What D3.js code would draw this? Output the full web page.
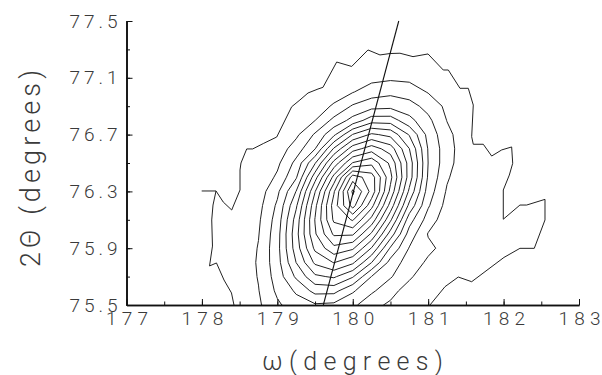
<!DOCTYPE html>
<html><head><meta charset="utf-8">
<script src="https://cdn.jsdelivr.net/npm/d3@7"></script>
<style>body{margin:0;background:#fff}svg{display:block}</style>
</head><body>
<svg id="chart" width="602" height="375"></svg>
<script>
// ---- axis ticks ----
const omegaTicks = [177,177.5,178,178.5,179,179.5,180,180.5,181,181.5,182,182.5,183];
const omegaLabels = [177,178,179,180,181,182,183];
const thetaTicks = [75.5,75.7,75.9,76.1,76.3,76.5,76.7,76.9,77.1,77.3,77.5];
const thetaLabels = [75.5,75.9,76.3,76.7,77.1,77.5];

// ---- measured intensity grid (contour level read at each grid node) ----
const gridOmega = [178.5,178.75,179,179.25,179.5,179.75,180,180.25,180.5,180.75,181,181.25,181.5,181.75,182];
const gridTheta = [75.5,75.6,75.7,75.8,75.9,76.0,76.1,76.2,76.3,76.4,76.5,76.6,76.7,76.8,76.9,77.0,77.1,77.2,77.3];
const intensity = [
 [1.23,1.84,2.83,3.55,3.87,3.76,3.25,2.26,1.85,0.92,0.32,0,0,0,0],
 [1.29,1.96,3.2,4.15,5.33,5.32,4.13,3.19,2.3,1.6,0.64,0,0,0,0],
 [1.31,2.06,3.45,5.17,6.8,7.15,6.1,3.97,3.1,2.15,1.4,0.29,0,0,0],
 [1.29,2.12,3.61,6.02,8.2,9.05,8.2,6.02,3.63,2.5,1.85,0.59,0,0,0],
 [1.24,2.06,3.67,6.5,9.22,10.72,10.17,7.93,4.87,2.94,2.2,1.7,0.2,0,0],
 [1.14,1.95,3.6,6.65,9.88,12.17,12.15,9.82,6.57,3.57,1.94,1.12,0.41,0,0],
 [1.0,1.84,3.43,6.42,10.05,13.18,14.1,11.65,8.17,4.43,2.54,1.4,0.64,0,0],
 [0.87,1.68,3.17,5.85,9.72,13.48,16.4,13.33,9.6,5.72,3.12,1.65,0.84,0.13,0],
 [0.7,1.5,2.78,5.03,8.95,12.88,17.2,14.65,10.73,6.8,3.54,1.88,1.04,0.32,0],
 [0.49,1.24,2.17,3.89,7.58,11.33,15.5,14.5,11.28,7.53,3.87,2.13,1.23,0.48,0],
 [0.26,0.96,1.78,3.29,5.92,9.35,12.07,12.75,10.77,7.57,3.99,2.37,1.35,0.59,0],
 [0,0.69,1.43,2.48,3.97,7.13,9.57,10.53,9.5,7.02,3.93,2.41,1.4,0.66,0],
 [0,0.38,1.05,1.8,3.13,4.8,7.05,8.17,7.72,5.92,3.68,2.28,1.39,0.68,0.02],
 [0,0.03,0.66,1.32,1.99,3.28,4.35,5.55,5.53,4.32,3.25,1.97,1.31,0.65,0.02],
 [0,0,0.3,0.88,1.5,2.13,3.12,3.62,3.72,3.4,2.65,1.77,1.17,0.58,0],
 [0,0,0,0.48,1.0,1.54,1.95,2.53,2.75,2.51,1.94,1.52,0.98,0.45,0],
 [0,0,0,0.07,0.57,1.0,1.41,1.69,1.82,1.77,1.56,1.2,0.77,0.3,0],
 [0,0,0,0,0.13,0.55,0.89,1.16,1.3,1.3,1.14,0.87,0.52,0.11,0],
 [0,0,0,0,0,0,0.4,0.65,0.79,0.82,0.72,0.52,0.23,0,0]
];
const levels = [2,3,4,5,6,7,8,9,10,11,12,13,14,15,16,17];

// ---- outermost (lowest) contour, traced as polylines [omega, 2theta] ----
const outerContourA = [[177.997,76.303],[178.187,76.303],[178.283,76.225],[178.395,76.169],[178.505,76.310],[178.505,76.451],[178.518,76.500],[178.594,76.599],[178.673,76.599],[178.814,76.637],[178.992,76.683],[179.190,76.896],[179.300,76.944],[179.407,76.993],[179.539,77.021],[179.605,77.033],[179.787,77.211],[179.986,77.180],[180.202,77.296],[180.361,77.261],[180.494,77.271],[180.626,77.273],[180.799,77.249],[180.998,77.268],[181.200,77.155],[181.267,77.155],[181.422,77.026],[181.532,77.026],[181.598,76.908],[181.577,76.685],[181.598,76.632],[181.731,76.632],[181.842,76.549],[181.975,76.592],[182.107,76.613],[182.121,76.498],[182.076,76.415],[181.996,76.310],[181.996,76.104],[182.217,76.204],[182.306,76.204],[182.549,76.244],[182.549,76.099],[182.407,75.899],[182.217,75.899],[182.005,75.835],[181.577,75.664],[181.399,75.697],[181.223,75.629],[181.024,75.500]];
const outerContourB = [[178.187,76.303],[178.147,76.204],[178.130,76.099],[178.140,75.915],[178.101,75.775],[178.193,75.796],[178.293,75.676],[178.392,75.585],[178.425,75.500]];
const ridgeLine = [[179.61,75.5],[180.61,77.5]];

// ---- drawing ----
const svg = d3.select('#chart');
const x = d3.scaleLinear().domain([177,183]).range([126.5,579]);
const y = d3.scaleLinear().domain([75.5,77.5]).range([305,21]);
const FONT = 'Roboto, "Open Sans", sans-serif';
const FW = 300, FC = '#3a3a3a';

svg.append('clipPath').attr('id','plot').append('rect')
  .attr('x',126.5).attr('y',0).attr('width',470).attr('height',305);
const g = svg.append('g').attr('clip-path','url(#plot)');

const dO = gridOmega[1]-gridOmega[0], dT = gridTheta[1]-gridTheta[0];
const proj = d3.geoTransform({point(px,py){
  this.stream.point(x(gridOmega[0]+(px-0.5)*dO), y(gridTheta[0]+(py-0.5)*dT));
}});
const contours = d3.contours().size([gridOmega.length, gridTheta.length])
  .thresholds(levels)(intensity.flat());
g.selectAll('path.lvl').data(contours).join('path').attr('class','lvl')
  .attr('d', d3.geoPath(proj)).attr('fill','none').attr('stroke','#222').attr('stroke-width',1);

const line = d3.line().x(d=>x(d[0])).y(d=>y(d[1]));
g.selectAll('path.outer').data([outerContourA, outerContourB]).join('path').attr('class','outer')
  .attr('d', line).attr('fill','none').attr('stroke','#222').attr('stroke-width',1);
g.append('path').datum(ridgeLine).attr('d', line).attr('fill','none').attr('stroke','#111').attr('stroke-width',1.1);

// axes
function styleAxis(sel){
  sel.select('.domain').attr('stroke','#111').attr('stroke-width',1.6);
  sel.selectAll('.tick line').attr('stroke','#111').attr('stroke-width',1);
}
const xMinor = svg.append('g').attr('transform','translate(0,305)')
  .call(d3.axisBottom(x).tickValues(omegaTicks).tickSizeInner(-3.5).tickSizeOuter(0).tickFormat(''));
styleAxis(xMinor);
const xMajor = svg.append('g').attr('transform','translate(0,305)')
  .call(d3.axisBottom(x).tickValues(omegaLabels).tickSizeInner(-6).tickSizeOuter(0).tickPadding(7).tickFormat(d3.format('d')));
styleAxis(xMajor);
xMajor.selectAll('text').attr('font-family',FONT).attr('font-weight',FW).attr('font-size',19)
  .attr('fill',FC).attr('textLength',42).attr('lengthAdjust','spacing');

const yMinor = svg.append('g').attr('transform','translate(126.5,0)')
  .call(d3.axisLeft(y).tickValues(thetaTicks).tickSizeInner(-3.5).tickSizeOuter(0).tickFormat(''));
styleAxis(yMinor);
const yMajor = svg.append('g').attr('transform','translate(126.5,0)')
  .call(d3.axisLeft(y).tickValues(thetaLabels).tickSizeInner(-6).tickSizeOuter(0).tickPadding(9).tickFormat(d3.format('.1f')));
styleAxis(yMajor);
yMajor.selectAll('text').attr('font-family',FONT).attr('font-weight',FW).attr('font-size',19)
  .attr('fill',FC).attr('textLength',48).attr('lengthAdjust','spacing');

// titles
svg.append('text').attr('x',352.5).attr('y',370).attr('text-anchor','middle')
  .attr('font-family',FONT).attr('font-weight',FW).attr('font-size',25).attr('fill',FC)
  .attr('textLength',181).attr('lengthAdjust','spacing').text('ω(degrees)');
svg.append('text').attr('transform','translate(40,168.5) rotate(-90)').attr('text-anchor','middle')
  .attr('font-family',FONT).attr('font-weight',FW).attr('font-size',27).attr('fill',FC)
  .attr('textLength',197).attr('lengthAdjust','spacing').text('2Θ (degrees)');
</script>
</body></html>
